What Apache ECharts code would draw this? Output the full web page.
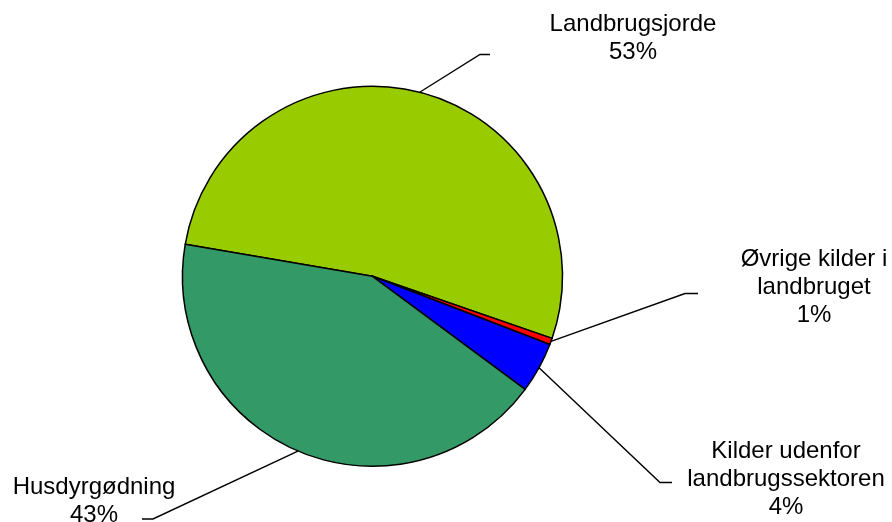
<!DOCTYPE html>
<html>
<head>
<meta charset="utf-8">
<script src="https://cdn.jsdelivr.net/npm/echarts@6/dist/echarts.min.js"></script>
<style>
html,body{margin:0;padding:0;background:#fff;}
#chart{width:892px;height:522px;}
</style>
</head>
<body>
<div id="chart"></div>
<script>
// Data
var categories = ['Landbrugsjorde', 'Øvrige kilder i\nlandbruget', 'Kilder udenfor\nlandbrugssektoren', 'Husdyrgødning'];
var values = [52.6, 0.55, 4.3, 42.55];
var colors = ['#99CC00', '#FF0000', '#0000FF', '#339966'];

// Label layout (positions of label blocks and guide-line elbows)
var labelCenters = [[633, 38], [814, 287], [786, 479], [94, 501]];
var labelElbows = [[[480, 54.5], [490, 54.5]], [[685, 293.5], [698, 293.5]], [[660, 482.5], [672, 482.5]], [[153, 519], [142, 519]]];

var total = values.reduce(function (a, b) { return a + b; }, 0);

var chart = echarts.init(document.getElementById('chart'), null, {renderer: 'canvas'});
chart.setOption({
  animation: false,
  backgroundColor: '#ffffff',
  series: [{
    type: 'pie',
    center: [372.5, 276.3],
    radius: 190,
    startAngle: 170.3,
    clockwise: true,
    avoidLabelOverlap: false,
    data: categories.map(function (c, i) {
      return {name: c, value: values[i], itemStyle: {color: colors[i]}};
    }),
    itemStyle: {borderColor: '#000', borderWidth: 1.5},
    emphasis: {disabled: true},
    label: {
      show: true,
      position: 'outside',
      fontFamily: 'Liberation Sans, Arial, sans-serif',
      fontSize: 24,
      lineHeight: 28,
      color: '#000',
      align: 'center',
      formatter: function (p) {
        return p.name + '\n' + Math.round(p.value / total * 100) + '%';
      }
    },
    labelLine: {
      show: true,
      length: 20,
      length2: 10,
      lineStyle: {color: '#000', width: 1.4}
    },
    labelLayout: function (params) {
      var i = params.dataIndex;
      var pts = params.labelLinePoints;
      var res = {
        x: labelCenters[i][0],
        y: labelCenters[i][1],
        align: 'center',
        verticalAlign: 'middle'
      };
      if (pts && pts.length) {
        res.labelLinePoints = [pts[0], labelElbows[i][0], labelElbows[i][1]];
      }
      return res;
    }
  }]
});
</script>
</body>
</html>
